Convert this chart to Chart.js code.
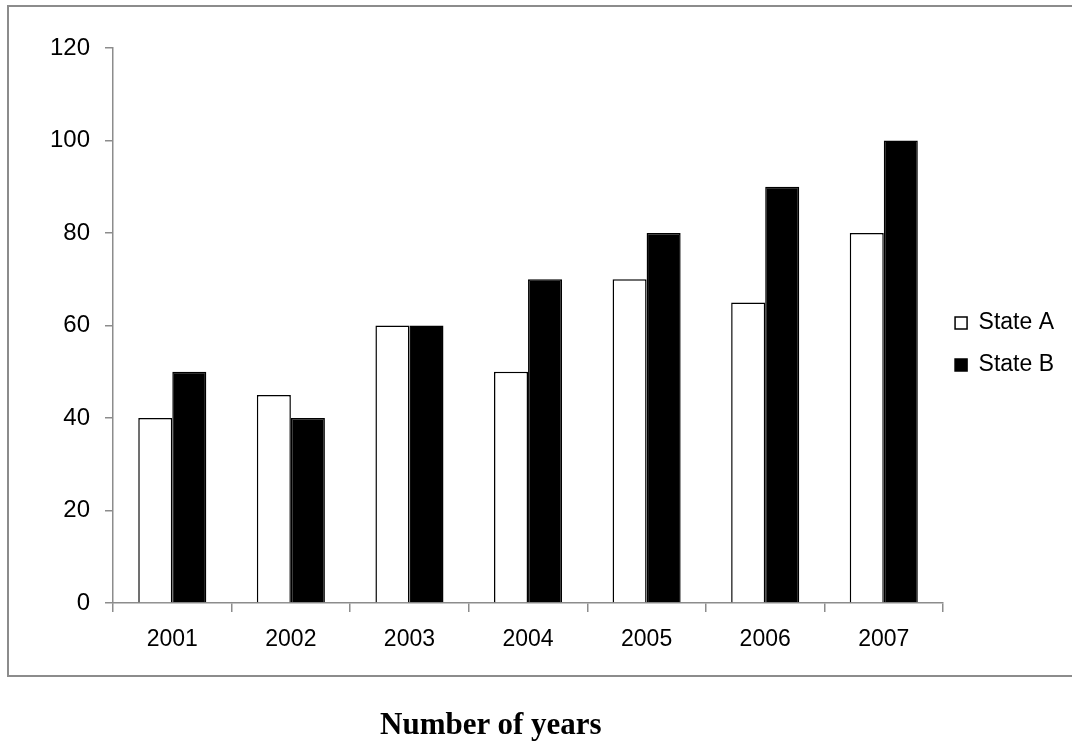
<!DOCTYPE html>
<html>
<head>
<meta charset="utf-8">
<script src="https://cdn.jsdelivr.net/npm/chart.js@4"></script>
<style>
  html, body { margin: 0; padding: 0; background: #ffffff; width: 1072px; height: 742px; overflow: hidden; }
  #frame { position: absolute; left: 7px; top: 5px; width: 1090px; height: 672px; border: 2px solid #8c8c8c; box-sizing: border-box; }
  #wrap { position: absolute; left: 0; top: 0; width: 1072px; height: 742px; }
  #title { position: absolute; left: 380px; top: 706px; font-family: "Liberation Serif", "DejaVu Serif", serif; font-weight: bold; font-size: 31px; line-height: 36px; color: #000; white-space: nowrap; }
</style>
</head>
<body>
<div id="frame"></div>
<div id="wrap"><canvas id="c" width="1072" height="742"></canvas></div>
<div id="title">Number of years</div>
<script>
const categories = ["2001", "2002", "2003", "2004", "2005", "2006", "2007"];
const stateA = [40, 45, 60, 50, 70, 65, 80];
const stateB = [50, 40, 60, 70, 80, 90, 100];
const seriesNames = ["State A", "State B"];
const yTicks = [0, 20, 40, 60, 80, 100, 120];

const axisGray = '#8c8c8c';
const font = { family: '"Liberation Sans", Arial, sans-serif', size: 23 };

new Chart(document.getElementById('c'), {
  type: 'bar',
  data: {
    labels: categories,
    datasets: [
      { label: [seriesNames[0]], data: stateA, backgroundColor: '#ffffff', borderColor: '#000000', borderWidth: 1.5 },
      { label: [seriesNames[1]], data: stateB, backgroundColor: '#000000', borderColor: '#000000', borderWidth: 1.5 }
    ]
  },
  options: {
    responsive: false,
    animation: false,
    devicePixelRatio: 1,
    layout: { padding: { top: 48, left: 0, right: 8, bottom: 95 } },
    datasets: { bar: { barPercentage: 1.0, categoryPercentage: 0.574 } },
    plugins: {
      tooltip: { enabled: false },
      legend: {
        position: 'right',
        align: 'center',
        labels: {
          color: '#000',
          font: { family: font.family, size: 23, lineHeight: '30px' },
          boxWidth: 12,
          boxHeight: 12,
          padding: 12
        }
      }
    },
    scales: {
      x: {
        afterFit: s => { s.height = 44; },
        grid: { display: true, drawOnChartArea: false, drawTicks: true, tickLength: 9, color: axisGray, lineWidth: 1.5, offset: true },
        border: { display: true, color: axisGray, width: 1.5 },
        ticks: { color: '#000', font: font, padding: 14, maxRotation: 0 }
      },
      y: {
        min: 0,
        max: 120,
        afterFit: s => { s.width = 113; },
        afterBuildTicks: s => { s.ticks = yTicks.map(v => ({ value: v })); },
        grid: { display: true, drawOnChartArea: false, drawTicks: true, tickLength: 8, color: axisGray, lineWidth: 1.5 },
        border: { display: true, color: axisGray, width: 1.5 },
        ticks: { color: '#000', font: { family: font.family, size: 24 }, padding: 15 }
      }
    }
  }
});
</script>
</body>
</html>
